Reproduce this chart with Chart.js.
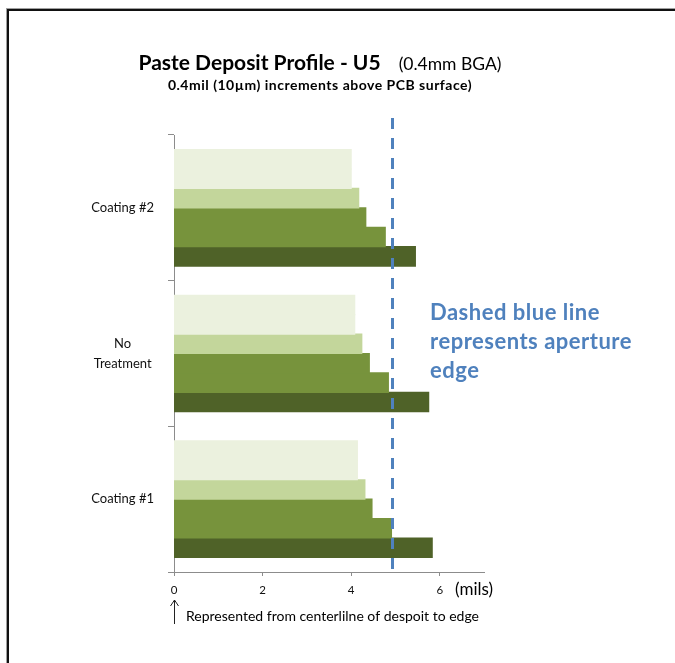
<!DOCTYPE html>
<html>
<head>
<meta charset="utf-8">
<script src="https://cdn.jsdelivr.net/npm/chart.js@4.4.1/dist/chart.umd.min.js"></script>
<style>
  html, body { margin: 0; padding: 0; background: #fff; }
  canvas { display: block; }
</style>
</head>
<body>
<canvas id="chart" width="675" height="663"></canvas>
<script>
// Paste deposit widths (mils, centerline to edge) per treatment,
// one series per 0.4 mil slice above the PCB surface (top slice first).
const categories = ['Coating #2', ['No', 'Treatment'], 'Coating #1'];
const slice6 = [4.00, 4.08, 4.14];
const slice5 = [4.00, 4.08, 4.14];
const slice4 = [4.17, 4.24, 4.31];
const slice3 = [4.33, 4.41, 4.47];
const slice2 = [4.77, 4.84, 4.91];
const slice1 = [5.45, 5.75, 5.83];
const apertureEdge = 4.92;
const xTicks = [0, 2, 4, 6];
const xMax = 7;

const FONT = 'Lato, "Open Sans", sans-serif';
const lightest = '#EBF1DE', light = '#C3D69B', mid = '#77933C', dark = '#4F6228';

const series = [
  { data: slice6, color: lightest },
  { data: slice5, color: lightest },
  { data: slice4, color: light },
  { data: slice3, color: mid },
  { data: slice2, color: mid },
  { data: slice1, color: dark }
];

const decor = {
  id: 'decor',
  beforeDraw(chart) {
    const ctx = chart.ctx;
    ctx.save();
    ctx.fillStyle = '#fff';
    ctx.fillRect(0, 0, chart.width, chart.height);
    // double frame around the chart
    ctx.strokeStyle = '#a0a0a0';
    ctx.lineWidth = 1;
    ctx.strokeRect(6.5, 8.5, chart.width + 40, chart.height + 40);
    ctx.strokeStyle = '#111';
    ctx.lineWidth = 2;
    ctx.strokeRect(8, 10, chart.width + 40, chart.height + 40);
    ctx.restore();
  },
  afterDatasetsDraw(chart) {
    const ctx = chart.ctx;
    const area = chart.chartArea;
    const x = Math.round(chart.scales.x.getPixelForValue(apertureEdge)) + 0.5;
    ctx.save();
    ctx.strokeStyle = '#4F81BD';
    ctx.lineWidth = 3;
    ctx.setLineDash([11, 9]);
    ctx.beginPath();
    ctx.moveTo(x, area.top - 17);
    ctx.lineTo(x, area.bottom + 6);
    ctx.stroke();
    ctx.restore();
  },
  afterDraw(chart) {
    const ctx = chart.ctx;
    ctx.save();

    // title: bold main part followed by regular note
    const t1 = 'Paste Deposit Profile - U5';
    const t2 = '(0.4mm BGA)';
    const f1 = 'bold 21px ' + FONT;
    const f2 = '17.5px ' + FONT;
    const gap = 18;
    ctx.font = f1; const w1 = ctx.measureText(t1).width;
    ctx.font = f2; const w2 = ctx.measureText(t2).width;
    const cx = 320;
    const tx = cx - (w1 + gap + w2) / 2;
    ctx.fillStyle = '#000';
    ctx.textBaseline = 'alphabetic';
    ctx.textAlign = 'left';
    ctx.font = f1; ctx.fillText(t1, tx, 70);
    ctx.font = f2; ctx.fillText(t2, tx + w1 + gap, 70);

    ctx.font = 'bold 14px ' + FONT;
    ctx.letterSpacing = '0.5px';
    ctx.textAlign = 'center';
    ctx.fillText('0.4mil (10\u00B5m) increments above PCB surface)', cx, 90);

    // aperture note
    ctx.fillStyle = '#4F81BD';
    ctx.font = 'bold 22px ' + FONT;
    ctx.textAlign = 'left';
    ['Dashed blue line', 'represents aperture', 'edge'].forEach((s, i) => {
      ctx.fillText(s, 430, 320 + i * 29);
    });
    ctx.letterSpacing = '0px';

    // axis unit
    ctx.fillStyle = '#000';
    ctx.font = '17px ' + FONT;
    ctx.textBaseline = 'middle';
    ctx.fillText('(mils)', 455, 590);

    // arrow and footnote from the zero point
    const x0 = Math.round(chart.scales.x.getPixelForValue(0)) + 0.5;
    ctx.strokeStyle = '#222';
    ctx.lineWidth = 1;
    ctx.beginPath();
    ctx.moveTo(x0, 624);
    ctx.lineTo(x0, 600);
    ctx.moveTo(x0 - 4, 606);
    ctx.lineTo(x0, 600);
    ctx.lineTo(x0 + 4, 606);
    ctx.stroke();
    ctx.font = '14px ' + FONT;
    ctx.fillText('Represented from centerlilne of despoit to edge', 186, 616);
    ctx.restore();
  }
};

new Chart(document.getElementById('chart'), {
  type: 'bar',
  data: {
    labels: categories,
    datasets: series.map(s => ({
      data: s.data,
      backgroundColor: s.color,
      borderWidth: 0,
      inflateAmount: 0.6,
      categoryPercentage: 0.8,
      barPercentage: 1.0
    }))
  },
  options: {
    indexAxis: 'y',
    responsive: false,
    devicePixelRatio: 1,
    animation: false,
    events: [],
    layout: { padding: { top: 135, right: 191, left: 0, bottom: 0 } },
    plugins: {
      legend: { display: false },
      title: { display: false },
      tooltip: { enabled: false }
    },
    scales: {
      y: {
        type: 'category',
        afterFit(scale) { scale.width = 174; },
        border: { color: '#8c8c8c', width: 1 },
        grid: { drawOnChartArea: false, offset: true, tickLength: 6, color: '#8c8c8c' },
        ticks: {
          crossAlign: 'center',
          padding: 14,
          color: '#111',
          font: { family: FONT, size: 13, lineHeight: 1.55 }
        }
      },
      x: {
        type: 'linear',
        min: 0,
        max: xMax,
        afterFit(scale) { scale.height = 91; },
        afterBuildTicks(scale) { scale.ticks = xTicks.map(v => ({ value: v })); },
        border: { color: '#8c8c8c', width: 1 },
        grid: { drawOnChartArea: false, tickLength: 4, color: '#8c8c8c' },
        ticks: {
          padding: 7,
          maxRotation: 0,
          color: '#111',
          font: { family: FONT, size: 11.5 }
        }
      }
    }
  },
  plugins: [decor]
});
</script>
</body>
</html>
